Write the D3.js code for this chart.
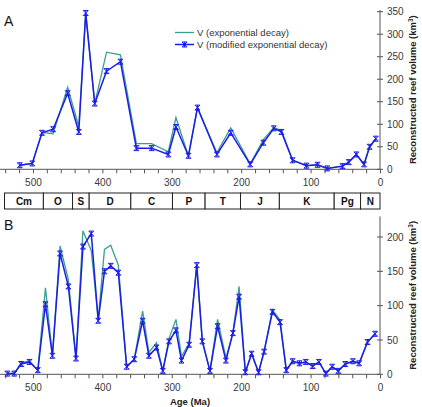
<!DOCTYPE html>
<html>
<head>
<meta charset="utf-8">
<script src="https://cdn.jsdelivr.net/npm/d3@7"></script>
<style>
  body { margin: 0; background: #fff; }
  svg { font-family: "Liberation Sans", Arial, sans-serif; display: block; }
  .tick-label { font-size: 10px; fill: #3a3a3a; }
  .axis-text { font-size: 9.5px; font-weight: bold; fill: #222; }
</style>
</head>
<body>
<div class="chart"></div>
<script>
var svgWidth = 422;
var svgHeight = 407;

// panel A: reconstructed reef volume
var agesA = [519, 501, 487, 471, 450, 434, 424, 411, 394, 374, 351, 329, 305, 294, 276, 263,
  235, 215, 187, 168, 153, 142, 126, 106, 90, 76, 54, 45, 34, 23, 15, 6];
var modA = [9, 13, 81, 89, 169, 83, 347, 146, 218, 239, 47, 47, 33, 94, 30, 137,
  33, 81, 11, 59, 91, 83, 20, 8, 10, 2, 7, 16, 33, 11, 50, 68];
var expA = [9, 13, 82, 79, 182, 95, 347, 146, 260, 254, 57, 57, 39, 115, 29, 137,
  37, 92, 12, 66, 93, 86, 20, 8, 10, 2, 7, 16, 33, 11, 50, 68];

// panel B
var agesB = [537, 527, 517, 505, 493, 482, 472, 461, 449, 438, 428, 416, 406, 397, 388, 377,
  365, 354, 342, 333, 322, 313, 304, 294, 286, 275, 264, 256, 245, 234, 222, 212, 203, 194,
  185, 175, 167, 155, 144, 135, 126, 116, 107, 97, 88, 78, 69, 60, 50, 39, 30, 18, 7];
var modB = [1, 1, 15, 18, 6, 102, 27, 176, 128, 23, 186, 205, 78, 150, 158, 148,
  11, 22, 78, 27, 39, 5, 48, 64, 20, 43, 159, 48, 5, 70, 20, 60, 113, 3,
  30, 3, 33, 91, 76, 6, 19, 16, 18, 12, 18, 1, 11, 5, 15, 19, 16, 47, 59];
var expB = [1, 1, 17, 19, 6, 126, 27, 187, 138, 23, 209, 180, 80, 182, 188, 159,
  11, 22, 92, 32, 46, 5, 52, 80, 26, 45, 159, 48, 5, 80, 24, 60, 128, 3,
  30, 3, 33, 94, 79, 6, 19, 16, 18, 12, 18, 1, 11, 5, 15, 19, 16, 47, 59];

// geologic periods
var periodNames = ["Cm", "O", "S", "D", "C", "P", "T", "J", "K", "Pg", "N"];
var periodBounds = [541, 485, 443, 419, 359, 299, 252, 201, 145, 66, 28, 0];

var xTicksMajor = [500, 400, 300, 200, 100, 0];
var yTicksA = [0, 50, 100, 150, 200, 250, 300, 350];
var yTicksB = [0, 50, 100, 150, 200];

var seriesNames = ["V (exponential decay)", "V (modified exponential decay)"];

var tealColor = "#3a9f93";
var blueColor = "#1c1ce6";

var svg = d3
  .select(".chart")
  .append("svg")
  .attr("width", svgWidth)
  .attr("height", svgHeight);

var xScale = d3.scaleLinear().domain([547.5, 0]).range([0, 380]);

var yScaleA = d3.scaleLinear().domain([0, 350]).range([169.3, 11.7]);
var yScaleB = d3.scaleLinear().domain([0, 200]).range([374.3, 237]);

function starMarker(g, cx, cy) {
  var s = 2.5;
  g.append("path")
    .attr("d",
      "M" + (cx - s) + "," + (cy - s) + "L" + (cx + s) + "," + (cy + s) +
      "M" + (cx - s) + "," + (cy + s) + "L" + (cx + s) + "," + (cy - s) +
      "M" + (cx - s) + "," + (cy - s) + "L" + (cx + s) + "," + (cy - s) +
      "M" + (cx - s) + "," + (cy + s) + "L" + (cx + s) + "," + (cy + s) +
      "M" + cx + "," + (cy - s) + "L" + cx + "," + (cy + s))
    .attr("stroke", blueColor)
    .attr("stroke-width", 1)
    .attr("fill", "none");
}

function drawPanel(ages, expV, modV, yScale, yTicks, yTop, label, labelY) {
  var g = svg.append("g");

  var yAxis = d3.axisRight(yScale).tickValues(yTicks).tickSize(0).tickPadding(7);
  var yg = g.append("g").attr("transform", "translate(380,0)").call(yAxis);
  yg.select(".domain").remove();
  yg.selectAll("text").attr("class", "tick-label").attr("font-family", null).attr("font-size", null);

  // axis line and cross ticks
  g.append("line")
    .attr("x1", 380).attr("x2", 380)
    .attr("y1", yScale.range()[0]).attr("y2", yTop)
    .attr("stroke", "#555");
  g.selectAll(".ytick")
    .data(yTicks)
    .enter()
    .append("line")
    .attr("x1", 377).attr("x2", 383)
    .attr("y1", function(d) { return yScale(d); })
    .attr("y2", function(d) { return yScale(d); })
    .attr("stroke", "#555");

  var baseY = yScale(0);
  var xAxis = d3.axisBottom(xScale).tickValues(d3.range(540, -1, -20)).tickSize(4)
    .tickFormat(function(d) { return xTicksMajor.indexOf(d) >= 0 ? d : ""; })
    .tickPadding(6);
  var xg = g.append("g").attr("transform", "translate(0," + baseY + ")").call(xAxis);
  xg.select(".domain").attr("stroke", "#555").attr("d", "M0,0H380");
  xg.selectAll(".tick line").attr("stroke", "#555");
  xg.selectAll("text").attr("class", "tick-label").attr("font-family", null).attr("font-size", null);

  var line = d3.line()
    .x(function(d) { return xScale(d[0]); })
    .y(function(d) { return yScale(d[1]); });

  g.append("path")
    .datum(d3.zip(ages, expV))
    .attr("d", line)
    .attr("fill", "none")
    .attr("stroke", tealColor)
    .attr("stroke-width", 1.3);

  g.append("path")
    .datum(d3.zip(ages, modV))
    .attr("d", line)
    .attr("fill", "none")
    .attr("stroke", blueColor)
    .attr("stroke-width", 1.5);

  d3.zip(ages, modV).forEach(function(d) {
    starMarker(g, xScale(d[0]), yScale(d[1]));
  });

  var yt = g.append("text")
    .attr("class", "axis-text")
    .attr("text-anchor", "middle")
    .attr("transform", "translate(416," + ((yScale.range()[0] + yTop) / 2) + ") rotate(-90)");
  yt.append("tspan").text("Reconstructed reef volume (km");
  yt.append("tspan").attr("baseline-shift", "super").attr("font-size", "6.5px").text("3");
  yt.append("tspan").text(")");

  g.append("text")
    .attr("x", 4)
    .attr("y", labelY)
    .attr("font-size", "14px")
    .attr("fill", "#111")
    .text(label);
}

drawPanel(agesA, expA, modA, yScaleA, yTicksA, 10, "A", 25.5);
drawPanel(agesB, expB, modB, yScaleB, yTicksB, yScaleB(230), "B", 230);

// period bar
var bar = svg.append("g");
var barTop = 193;
var barBottom = 209;
periodNames.forEach(function(name, i) {
  var x0 = xScale(periodBounds[i]);
  var x1 = xScale(periodBounds[i + 1]);
  bar.append("rect")
    .attr("x", x0).attr("y", barTop)
    .attr("width", x1 - x0).attr("height", barBottom - barTop)
    .attr("fill", "#fff")
    .attr("stroke", "#222")
    .attr("stroke-width", 1);
  bar.append("text")
    .attr("x", (x0 + x1) / 2)
    .attr("y", barTop + 12)
    .attr("text-anchor", "middle")
    .attr("font-size", "10px")
    .attr("font-weight", "bold")
    .attr("fill", "#111")
    .text(name);
});

// x axis title (sits right at the bottom edge, as in the original)
svg.append("text")
  .attr("class", "axis-text")
  .attr("x", 190)
  .attr("y", 404.5)
  .attr("text-anchor", "middle")
  .text("Age (Ma)");

// legend
var legend = svg.append("g");
legend.append("line")
  .attr("x1", 175).attr("x2", 194).attr("y1", 32.5).attr("y2", 32.5)
  .attr("stroke", tealColor).attr("stroke-width", 1.3);
legend.append("line")
  .attr("x1", 175).attr("x2", 194).attr("y1", 44.5).attr("y2", 44.5)
  .attr("stroke", blueColor).attr("stroke-width", 1.5);
starMarker(legend, 184.5, 44.5);
legend.selectAll(".legend-text")
  .data(seriesNames)
  .enter()
  .append("text")
  .attr("x", 197)
  .attr("y", function(d, i) { return 36 + i * 12; })
  .attr("font-size", "9.5px")
  .attr("fill", "#333")
  .text(function(d) { return d; });
</script>
</body>
</html>
